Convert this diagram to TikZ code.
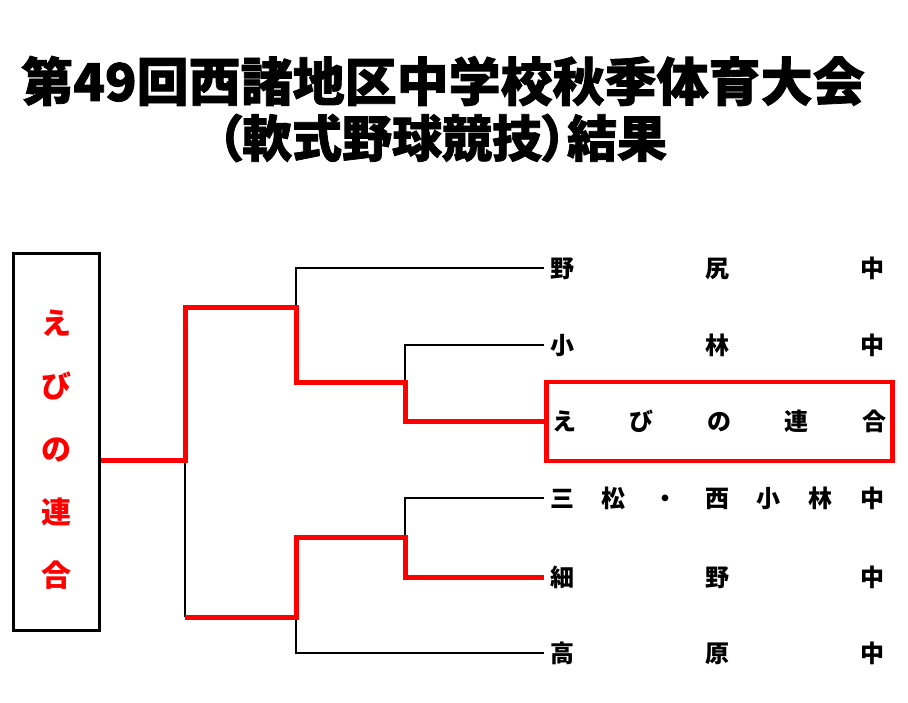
\documentclass[tikz,border=0pt]{standalone}
\usepackage{fontspec}
\newfontfamily\jp{Noto Sans CJK JP}
\newfontfamily\jptitle[FakeBold=1.5,RawFeature=+palt]{Noto Sans CJK JP}
\newfontfamily\jpheavy[FakeBold=1.5]{Noto Sans CJK JP}
\usetikzlibrary{positioning}

\tikzset{
  win/.style={red, line width=5pt},
  lose/.style={black, line width=1.8pt},
  team/.style={anchor=west, inner xsep=6pt, inner ysep=0pt, font=\jp\bfseries\fontsize{24}{24}\selectfont},
  titletext/.style={font=\jpheavy\bfseries\fontsize{52}{52}\selectfont},
}
\newcommand{\spreadname}[1]{\hbox to 334pt{#1}}

\begin{document}
\begin{tikzpicture}[x=1pt,y=-1pt]
      \useasboundingbox (0,0) rectangle (908,702);

      \node[titletext] (title) at (443,81) {第49回西諸地区中学校秋季体育大会};
      \node[titletext, font=\jptitle\bfseries\fontsize{50}{50}\selectfont] (subtitle) at (442,138) {（軟式野球競技）結果};

      \node[draw, line width=3.5pt, minimum width=86pt, minimum height=377pt, inner sep=0pt] (champ) at (56.5,442) {};
      \node[red, align=center, font=\jp\bfseries\fontsize{30}{63}\selectfont] (champname) at ([yshift=-8pt]champ.center) {え\\び\\の\\連\\合};

      \node[team] (t1) at (544,268) {\spreadname{野\hfill 尻\hfill 中}};
      \node[team] (t2) at (544,345) {\spreadname{小\hfill 林\hfill 中}};
      \node[team, draw=red, line width=4.5pt, minimum height=79pt] (t3) at (544,421.5) {\spreadname{え\hfill び\hfill の\hfill 連\hfill 合}};
      \node[team] (t4) at (544,498) {\spreadname{三\hfill 松\hfill ・\hfill 西\hfill 小\hfill 林\hfill 中}};
      \node[team] (t5) at (544,577) {\spreadname{細\hfill 野\hfill 中}};
      \node[team] (t6) at (544,653) {\spreadname{高\hfill 原\hfill 中}};

      \coordinate (f) at (185,460);
      \coordinate (s1) at (296,307);
      \coordinate (s2) at (296,617);
      \coordinate (q1) at (405,382);
      \coordinate (q2) at (405,537);

      \draw[lose] (f) -- (f |- s2);
      \draw[lose] (s1) |- (t1.west);
      \draw[lose] (q1) |- (t2.west);
      \draw[lose] (q2) |- (t4.west);
      \draw[lose] (s2) |- (t6.west);

      \draw[win] (champ.east |- f) -- (f) |- (s1) |- (q1) |- (t3.west);
      \draw[win] (f |- s2) -- (s2) |- (q2) |- (t5.west);
    \end{tikzpicture}
\end{document}
